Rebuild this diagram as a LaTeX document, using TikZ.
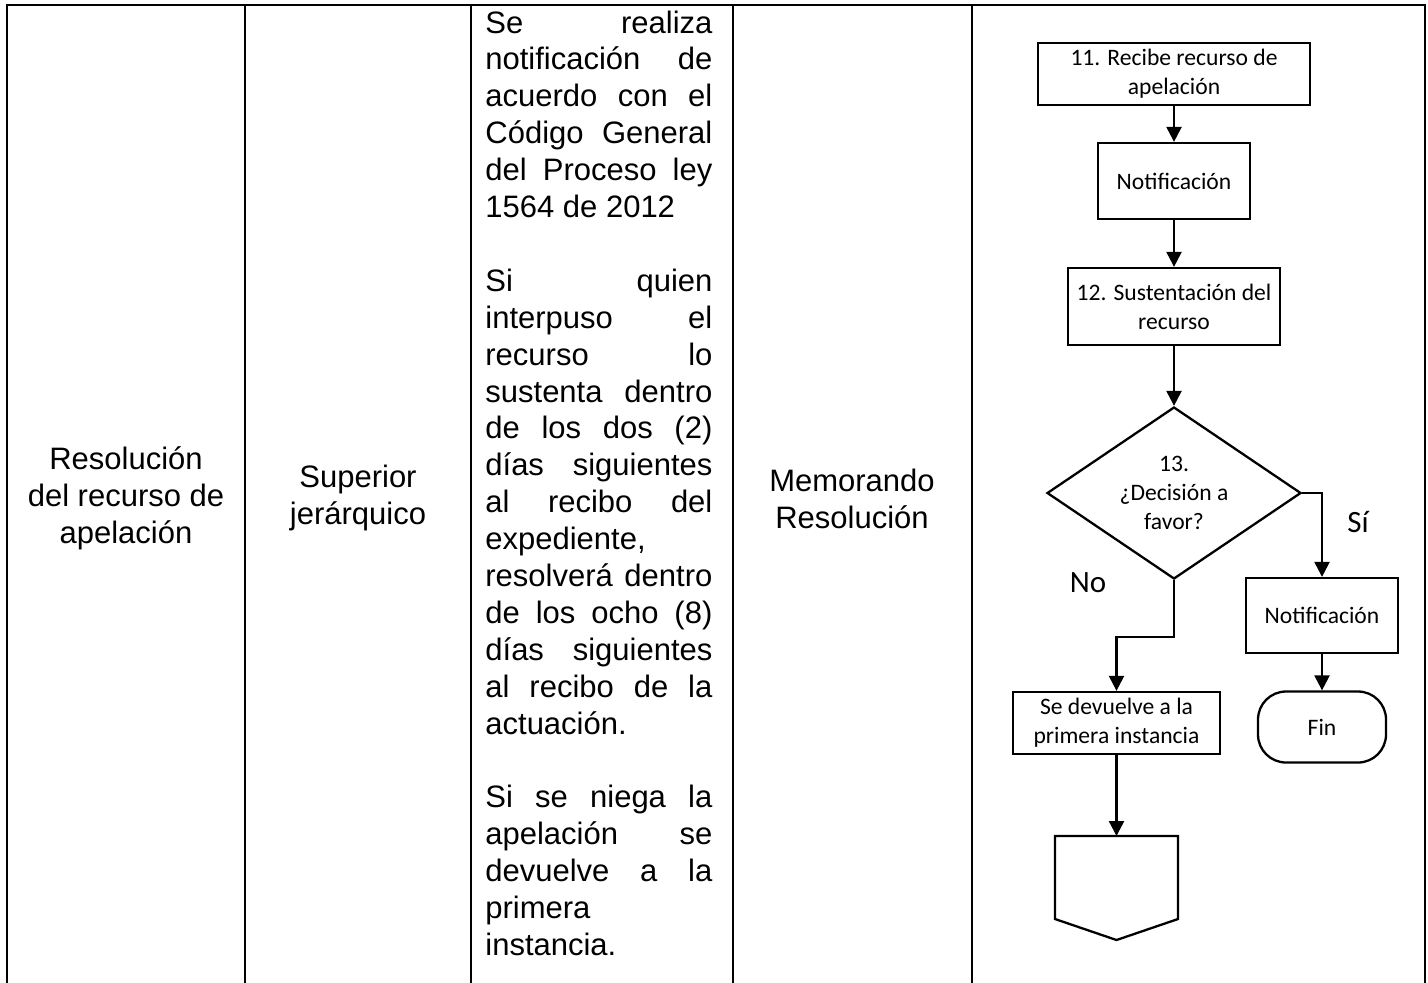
\documentclass[tikz,border=0pt]{standalone}
\usepackage{fontspec}
\setmainfont{Liberation Sans}
\newfontfamily\calibri{Carlito}
\usetikzlibrary{shapes.geometric,arrows.meta}
\tikzset{
  linea/.style={line width=1.25pt},
  celda/.style={font=\fontsize{15.5}{18.4}\selectfont, align=center},
  caja/.style={draw, line width=1.15pt, align=center, inner sep=0pt,
    font=\calibri\fontsize{11.8}{14.5}\selectfont},
  decision/.style={caja, diamond, aspect=1.48},
  flecha/.style={line width=1.15pt, -{Triangle[width=7.5pt,length=7.5pt]}},
  rotulo/.style={font=\calibri\fontsize{15.5}{18}\selectfont},
}
\begin{document}
\begin{tikzpicture}[x=0.5pt,y=-0.5pt]
\useasboundingbox (0,0) rectangle (1428,982);
% tabla
\draw[linea] (7,990) -- (7,5) -- (1425,5) -- (1425,990);
\foreach \x in {245,471,733,972}
  \draw[linea] (\x,5) -- (\x,990);
\node[celda] (actividad) at (126,498) {Resolución\\del recurso de\\apelación};
\node[celda] (responsable) at (358,498) {Superior\\jerárquico};
\node[anchor=base west, inner sep=0pt] (detalle) at (485,33) {\parbox[t]{113.5pt}{%
  \fontsize{15.5}{18.45}\selectfont\hyphenpenalty=10000\exhyphenpenalty=10000
  Se realiza\linebreak notificación de\linebreak acuerdo con el\linebreak
  Código General\linebreak del Proceso ley\linebreak 1564 de 2012\par
  \vspace{\baselineskip}
  Si quien\linebreak interpuso el\linebreak recurso lo\linebreak
  sustenta dentro\linebreak de los dos (2)\linebreak días siguientes\linebreak
  al recibo del\linebreak expediente,\linebreak resolverá dentro\linebreak
  de los ocho (8)\linebreak días siguientes\linebreak al recibo de la\linebreak
  actuación.\par
  \vspace{\baselineskip}
  Si se niega la\linebreak apelación se\linebreak devuelve a la\linebreak
  primera\linebreak instancia.}};
\node[celda] (registro) at (852,499) {Memorando\\Resolución};
% flujo
\node[caja, minimum width=136pt, minimum height=31pt] (recibe) at (1174,74)
  {11. Recibe recurso de\\apelación};
\node[caja, minimum width=76pt, minimum height=38pt] (notif) at (1174,181) {Notificación};
\node[caja, minimum width=106pt, minimum height=38.5pt] (susten) at (1174,306.5)
  {12. Sustentación del\\recurso};
\node[decision, minimum width=127pt, minimum height=86pt] (decis) at (1174,493)
  {13.\\¿Decisión a\\favor?};
\node[caja, minimum width=76pt, minimum height=37.5pt] (notifsi) at (1322,615.5) {Notificación};
\node[caja, rounded corners=14pt, minimum width=64pt, minimum height=35.5pt] (fin) at (1322,727) {Fin};
\node[caja, minimum width=103.5pt, minimum height=31pt] (devuelve) at (1116.5,723)
  {Se devuelve a la\\primera instancia};
\coordinate (offpg) at (1116.5,836);
\draw[line width=1.15pt] (offpg) -- (1178,836) -- (1178,919) -- (1116.5,940)
  -- (1055,919) -- (1055,836) -- cycle;
\draw[flecha] (recibe) -- (notif);
\draw[flecha] (notif) -- (susten);
\draw[flecha] (susten) -- (decis);
\draw[flecha] (decis.east) -| (notifsi.north);
\draw[flecha] (decis.south) -- ++(0,57) -| (devuelve.north);
\draw[flecha] (notifsi) -- (fin);
\draw[flecha] (devuelve) -- (offpg);
\node[rotulo] (si) at (1358,522) {Sí};
\node[rotulo] (no) at (1088,583) {No};
\end{tikzpicture}
\end{document}
